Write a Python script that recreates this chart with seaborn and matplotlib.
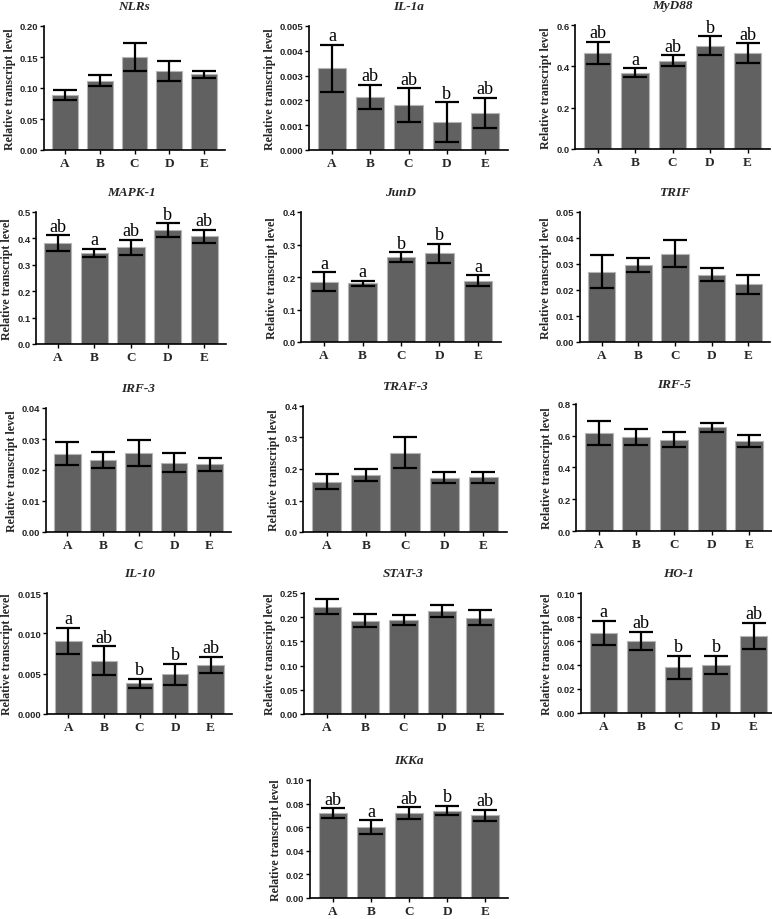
import numpy as np
import pandas as pd
import matplotlib
matplotlib.use("Agg")
import matplotlib.pyplot as plt
import seaborn as sns
from matplotlib.ticker import MultipleLocator, FormatStrFormatter

# ---------------- data ----------------
groups = ["A", "B", "C", "D", "E"]
genes = ["NLRs", "IL-1a", "MyD88", "MAPK-1", "JunD", "TRIF", "IRF-3",
         "TRAF-3", "IRF-5", "IL-10", "STAT-3", "HO-1", "IKKa"]

nlrs_mean = [0.089, 0.112, 0.150, 0.127, 0.122]
nlrs_sd = [0.008, 0.009, 0.023, 0.016, 0.006]
il1a_mean = [0.0033, 0.00215, 0.0018, 0.00113, 0.0015]
il1a_sd = [0.00095, 0.00048, 0.00068, 0.0008, 0.0006]
myd88_mean = [0.465, 0.370, 0.428, 0.500, 0.465]
myd88_sd = [0.053, 0.020, 0.025, 0.045, 0.047]
mapk1_mean = [0.382, 0.345, 0.367, 0.432, 0.408]
mapk1_sd = [0.030, 0.015, 0.028, 0.025, 0.025]
jund_mean = [0.186, 0.181, 0.261, 0.273, 0.188]
jund_sd = [0.028, 0.008, 0.015, 0.030, 0.017]
trif_mean = [0.0270, 0.0295, 0.0340, 0.0258, 0.0222]
trif_sd = [0.0063, 0.0027, 0.0052, 0.0025, 0.0036]
irf3_mean = [0.0253, 0.0232, 0.0255, 0.0224, 0.0218]
irf3_sd = [0.0036, 0.0025, 0.0042, 0.0030, 0.0022]
traf3_mean = [0.159, 0.182, 0.252, 0.172, 0.174]
traf3_sd = [0.024, 0.019, 0.050, 0.018, 0.017]
irf5_mean = [0.617, 0.592, 0.575, 0.652, 0.565]
irf5_sd = [0.078, 0.050, 0.047, 0.030, 0.038]
il10_mean = [0.0091, 0.0066, 0.0038, 0.0049, 0.0061]
il10_sd = [0.0016, 0.0018, 0.0006, 0.0013, 0.0010]
stat3_mean = [0.222, 0.193, 0.194, 0.213, 0.199]
stat3_sd = [0.015, 0.013, 0.010, 0.012, 0.016]
ho1_mean = [0.067, 0.060, 0.038, 0.040, 0.064]
ho1_sd = [0.010, 0.0075, 0.0098, 0.0078, 0.011]
ikka_mean = [0.072, 0.060, 0.072, 0.074, 0.070]
ikka_sd = [0.004, 0.006, 0.005, 0.004, 0.005]

means = [nlrs_mean, il1a_mean, myd88_mean, mapk1_mean, jund_mean, trif_mean,
         irf3_mean, traf3_mean, irf5_mean, il10_mean, stat3_mean, ho1_mean, ikka_mean]
sds = [nlrs_sd, il1a_sd, myd88_sd, mapk1_sd, jund_sd, trif_sd,
       irf3_sd, traf3_sd, irf5_sd, il10_sd, stat3_sd, ho1_sd, ikka_sd]

letters_il1a = ["a", "ab", "ab", "b", "ab"]
letters_myd88 = ["ab", "a", "ab", "b", "ab"]
letters_mapk1 = ["ab", "a", "ab", "b", "ab"]
letters_jund = ["a", "a", "b", "b", "a"]
letters_il10 = ["a", "ab", "b", "b", "ab"]
letters_ho1 = ["a", "ab", "b", "b", "ab"]
letters_ikka = ["ab", "a", "ab", "b", "ab"]
letters = [None, letters_il1a, letters_myd88, letters_mapk1, letters_jund, None,
           None, None, None, letters_il10, None, letters_ho1, letters_ikka]

ymax = [0.20, 0.005, 0.6, 0.5, 0.4, 0.05, 0.04, 0.4, 0.8, 0.015, 0.25, 0.10, 0.10]
ystep = [0.05, 0.001, 0.2, 0.1, 0.1, 0.01, 0.01, 0.1, 0.2, 0.005, 0.05, 0.02, 0.02]
ydec = [2, 3, 1, 1, 1, 2, 2, 1, 1, 3, 2, 2, 2]

# ---------------- layout (pixels: left, top, bottom, width) ----------------
W, H = 772, 920
rects_px = [
    (44, 27, 151, 181), (309, 27, 151, 199), (575, 26, 150, 195),
    (36, 213, 345, 190), (301, 213, 343, 200), (580, 213, 343, 190),
    (46, 409, 533, 185), (303, 407, 533, 204), (576, 405, 532, 196),
    (47, 594, 715, 185), (304, 594, 715, 199), (581, 594, 714, 195),
    (310, 781, 899, 198),
]

sns.set_style("ticks")
plt.rcParams["font.family"] = ["Liberation Serif", "DejaVu Serif"]

fig = plt.figure(figsize=(W / 100, H / 100), dpi=100)
bar_color = "#616161"

for i, gene in enumerate(genes):
    l, t, b, w = rects_px[i]
    ax = fig.add_axes([l / W, (H - b) / H, w / W, (b - t) / H])
    df = pd.DataFrame({"group": groups, "value": means[i]})
    sns.barplot(data=df, x="group", y="value", order=groups, color=bar_color,
                saturation=1, width=0.74, errorbar=None, ax=ax,
                edgecolor="#b5b5b5", linewidth=0.8)
    xs = np.arange(len(groups))
    ax.errorbar(xs, means[i], yerr=sds[i], fmt="none", ecolor="black",
                elinewidth=1.6, capsize=8.5, capthick=1.6, zorder=5)
    if letters[i] is not None:
        for x, m, s, lab in zip(xs, means[i], sds[i], letters[i]):
            ax.text(x, m + s + ymax[i] * 0.005, lab, ha="center", va="bottom",
                    fontsize=13, family="Liberation Serif", color="black")
    ax.set_xlim(-0.6, 4.6)
    ax.set_ylim(0, ymax[i])
    ax.yaxis.set_major_locator(MultipleLocator(ystep[i]))
    ax.yaxis.set_major_formatter(FormatStrFormatter("%%.%df" % ydec[i]))
    ax.set_title(gene, fontsize=9.5, fontweight="bold", fontstyle="italic",
                 family="Liberation Serif", pad=12)
    ax.set_xlabel("")
    ax.set_ylabel("Relative transcript level", fontsize=8.6, fontweight="bold",
                  family="Liberation Serif", labelpad=3)
    for sp in ["top", "right"]:
        ax.spines[sp].set_visible(False)
    for sp in ["left", "bottom"]:
        ax.spines[sp].set_linewidth(1.2)
        ax.spines[sp].set_color("black")
    ax.tick_params(axis="both", direction="out", length=3, width=1.0, color="black")
    ax.tick_params(axis="y", labelsize=6.8, pad=1)
    ax.tick_params(axis="x", labelsize=9.5, pad=2)
    for tl in ax.get_yticklabels():
        tl.set_fontfamily("Liberation Sans")
        tl.set_fontweight("bold")
    for tl in ax.get_xticklabels():
        tl.set_fontfamily("Liberation Serif")
        tl.set_fontweight("bold")

fig.savefig("out.png", dpi=100, facecolor="white")
